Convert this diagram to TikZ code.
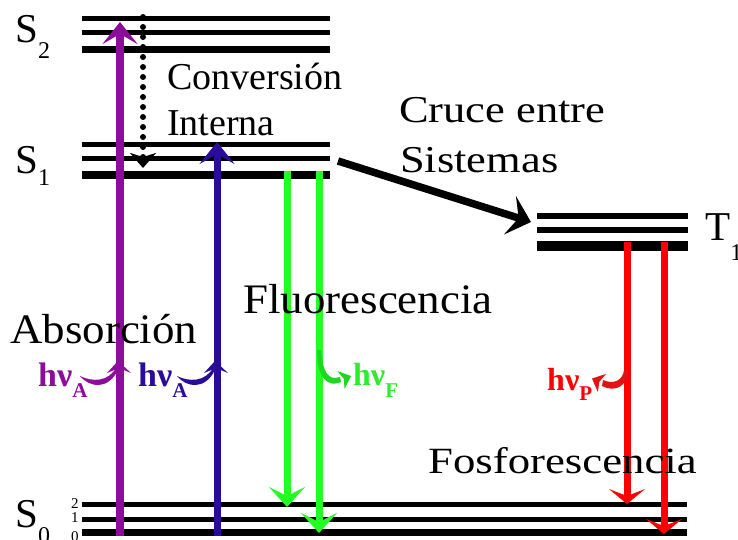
\documentclass[tikz,border=0pt]{standalone}
\usepackage{fontspec}
\setmainfont{Liberation Serif}
\newfontfamily\wideA[FakeStretch=1.07]{Liberation Serif}
\newfontfamily\wideB[FakeStretch=1.17]{Liberation Serif}
\newfontfamily\wideC[FakeStretch=1.21]{Liberation Serif}
\usetikzlibrary{arrows.meta}
\definecolor{cpurple}{RGB}{140,12,155}
\definecolor{cblue}{RGB}{42,12,155}
\definecolor{cgreen}{RGB}{35,255,35}
\definecolor{cgreenD}{RGB}{30,215,30}
\definecolor{cgreenT}{RGB}{45,235,45}
\definecolor{cred}{RGB}{255,0,0}
\definecolor{credD}{RGB}{225,20,20}
\begin{document}
\begin{tikzpicture}[x=1pt,y=-1pt,
  lbl/.style={inner sep=0pt, anchor=base west},
  thinlvl/.style={line width=5pt},
  thicklvl/.style={line width=7.5pt},
  bigtip/.style={-{Stealth[length=20pt,width=36pt,inset=9pt]}},
  shaft/.style={line width=7pt}]
\useasboundingbox (0,0) rectangle (738,539);
% ---- levels
\draw[thinlvl] (82,18) -- (330,18);
\draw[thinlvl] (82,32.7) -- (330,32.7);
\draw[thicklvl] (82,49.5) -- (330,49.5);
\draw[thinlvl] (82,144) -- (330,144);
\draw[thinlvl] (82,158) -- (330,158);
\draw[line width=8pt] (82,175) -- (330,175);
\draw[line width=6pt] (537,216) -- (688,216);
\draw[line width=6pt] (537,230) -- (688,230);
\draw[line width=9.5pt] (537,246) -- (688,246);
\draw[thinlvl] (82,504.5) -- (687,504.5);
\draw[thinlvl] (82,519.5) -- (687,519.5);
\draw[line width=6.5pt] (82,532.5) -- (687,532.5);
% ---- coordinates
\coordinate (pa0) at (120,536); \coordinate (pa1) at (120,22);
\coordinate (ba0) at (217,536); \coordinate (ba1) at (217,142);
\coordinate (ic0) at (143,17);  \coordinate (ic1) at (143,168);
\coordinate (ga0) at (287,171); \coordinate (ga1) at (287,507);
\coordinate (gb0) at (319,171); \coordinate (gb1) at (319,533);
\coordinate (ra0) at (627,242); \coordinate (ra1) at (627,504);
\coordinate (rb0) at (664,242); \coordinate (rb1) at (664,534);
\coordinate (isc0) at (338,161); \coordinate (isc1) at (531,222);
% ---- arrows
\draw[shaft, line width=7.5pt, cpurple, -{Stealth[length=22pt,width=35pt,inset=10pt]}] (pa0) -- (pa1);
\draw[shaft, cblue, -{Stealth[length=22pt,width=35pt,inset=10pt]}] (ba0) -- (ba1);
\draw[line width=6pt, line cap=round, dash pattern=on 0pt off 10pt,
      -{Stealth[length=15pt,width=26pt,inset=4pt]}] (ic0) -- (ic1);
\draw[shaft, cgreen, bigtip] (ga0) -- (ga1);
\draw[shaft, cgreen, bigtip] (gb0) -- (gb1);
\draw[shaft, cred, -{Stealth[length=15pt,width=36pt,inset=7pt]}] (ra0) -- (ra1);
\draw[shaft, cred, -{Stealth[length=15pt,width=36pt,inset=7pt]}] (rb0) -- (rb1);
\draw[line width=7.5pt, -{Stealth[length=22pt,width=40pt,inset=9pt]}] (isc0) -- (isc1);
% ---- curly photon arrows
\fill[cpurple] (80,376) .. controls (90,388) and (108,390) .. (118,370)
   -- (116,368) .. controls (108,382) and (92,382) .. cycle;
\fill[cpurple] (118,361) -- (131,373) -- (119,368) -- (107,373) -- cycle;
\begin{scope}[xshift=97pt]
\fill[cblue] (80,376) .. controls (90,388) and (108,390) .. (118,370)
   -- (116,368) .. controls (108,382) and (92,382) .. cycle;
\fill[cblue] (118,361) -- (131,373) -- (119,368) -- (107,373) -- cycle;
\end{scope}
\fill[cgreenD] (317,350) .. controls (317,372) and (324,389) .. (341,382)
   -- (340,377) .. controls (328,381) and (323,372) .. (321,350) -- cycle;
\fill[cgreenD] (351,376) -- (337.4,371) -- (343.8,378.9) -- (344.6,389) -- cycle;
\fill[credD] (628,370) .. controls (628,386) and (615,393) .. (602,386)
   -- (603,380) .. controls (614,385) and (623,380) .. (624,370) -- cycle;
\fill[credD] (592,378.5) -- (606.1,373.9) -- (599.3,381.8) -- (597.9,392.1) -- cycle;
% ---- level labels
\node[lbl] (S2) at (15,42) {\fontsize{41}{41}\selectfont S\raisebox{-16pt}{\fontsize{24}{24}\selectfont 2}};
\node[lbl] (S1) at (15,173) {\fontsize{41}{41}\selectfont S\raisebox{-12pt}{\fontsize{24}{24}\selectfont 1}};
\node[lbl] (S0) at (15,527) {\fontsize{41}{41}\selectfont S\raisebox{-16pt}{\fontsize{24}{24}\selectfont 0}};
\node[lbl] (T1) at (705,240) {\fontsize{41}{41}\selectfont T\raisebox{-20pt}{\fontsize{24}{24}\selectfont 1}};
\node[lbl] (v2) at (71,508) {\fontsize{15}{15}\selectfont 2};
\node[lbl] (v1) at (71,522) {\fontsize{15}{15}\selectfont 1};
\node[lbl] (v0) at (71,541) {\fontsize{15}{15}\selectfont 0};
% ---- texts
\node[lbl] (conv) at (167,89) {\fontsize{38}{38}\selectfont Conversión};
\node[lbl] (inter) at (167,135) {\fontsize{38}{38}\selectfont Interna};
\node[lbl] (cruce) at (399,122) {\wideB\fontsize{38}{38}\selectfont Cruce entre};
\node[lbl] (sist) at (400,172) {\wideB\fontsize{38}{38}\selectfont Sistemas};
\node[lbl] (fluo) at (243,313) {\wideA\fontsize{42}{42}\selectfont Fluorescencia};
\node[lbl] (fosf) at (428,473) {\wideC\fontsize{37}{37}\selectfont Fosforescencia};
\node[lbl] (abs) at (10,343) {\wideA\fontsize{42}{42}\selectfont Absorción};
% ---- photon labels
\node[lbl, cpurple] (hvA1) at (38,386) {\fontsize{34}{34}\selectfont\bfseries hν\raisebox{-11pt}{\fontsize{21}{21}\selectfont A}};
\node[lbl, cblue] (hvA2) at (138,386) {\fontsize{34}{34}\selectfont\bfseries hν\raisebox{-11pt}{\fontsize{21}{21}\selectfont A}};
\node[lbl, cgreenT] (hvF) at (353,385) {\fontsize{32}{32}\selectfont\bfseries hν\raisebox{-12pt}{\fontsize{21}{21}\selectfont F}};
\node[lbl, cred] (hvP) at (547,390) {\fontsize{32}{32}\selectfont\bfseries hν\raisebox{-10pt}{\fontsize{21}{21}\selectfont P}};
\end{tikzpicture}
\end{document}
